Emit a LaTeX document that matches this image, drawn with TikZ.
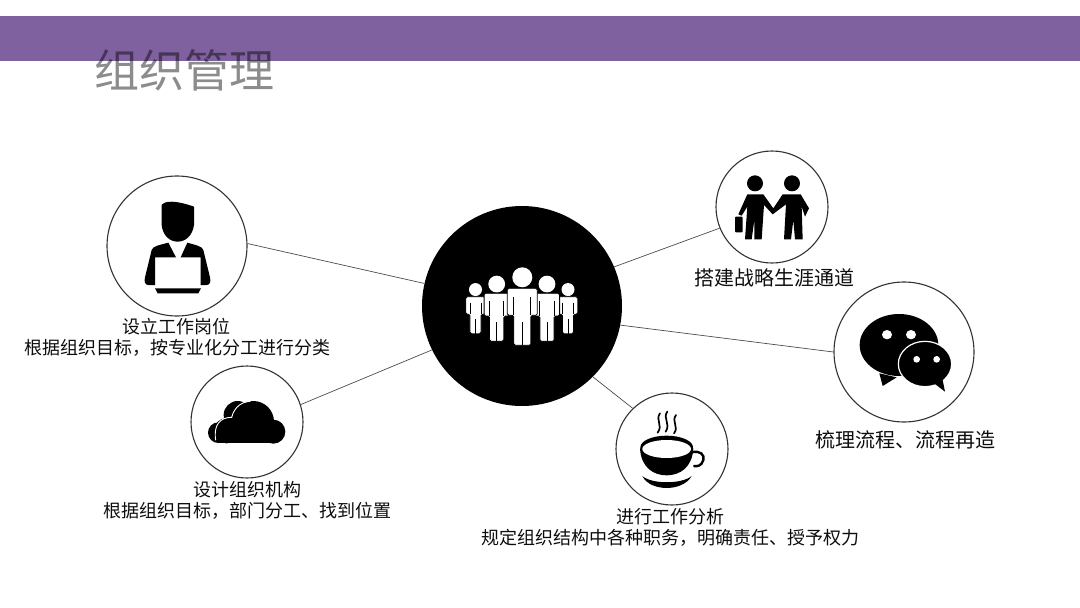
\documentclass[tikz,border=0pt]{standalone}
\usepackage{fontspec}
\setmainfont{Noto Sans CJK SC}
\usepackage{xcolor}
\usepackage{tikz}
\usetikzlibrary{positioning}
\definecolor{barpurple}{HTML}{7F619F}

\begin{document}
\begin{tikzpicture}[
  x=1pt, y=-1pt,
  bigring/.style={draw=black!80, line width=1.1pt, fill=white, circle, inner sep=0pt, minimum size=140pt},
  midring/.style={draw=black!80, line width=1.1pt, fill=white, circle, inner sep=0pt, minimum size=112pt},
  hubdisc/.style={fill=black, circle, inner sep=0pt, minimum size=200pt},
  caption/.style={align=center, inner sep=0pt, text=black!95, font=\fontsize{18}{21}\selectfont},
  bigcaption/.style={caption, font=\fontsize{20}{24}\selectfont},
  spoke/.style={draw=black!70, line width=0.7pt},
  crowdman/.pic={
    \fill[white] (0,-11) circle (10);
    \filldraw[white, draw=black, line width=0.8pt, rounded corners=1.5pt]
      (-15,0) -- (15,0) -- (15,27) -- (8.5,27) -- (8.5,57) -- (-8.5,57) -- (-8.5,27) -- (-15,27) -- cycle;
    \draw[black, line width=0.9pt] (-8.5,9) -- (-8.5,27) (8.5,9) -- (8.5,27) (0,34) -- (0,57);
  }
]
\useasboundingbox (0,0) rectangle (1080,608);
\fill[barpurple] (0,16) rectangle (1080,61);
\node[inner sep=0pt, text opacity=0.45, font=\fontsize{45}{50}\selectfont] (title) at (184,70) {组织管理};

% circles
\node[hubdisc] (hub) at (522,306) {};
\node[bigring] (worker) at (177,246) {};
\node[midring] (partner) at (772,207) {};
\node[bigring] (chat) at (904,352) {};
\node[midring] (coffee) at (672,449) {};
\node[midring] (cloud) at (247,422) {};

% captions
\node[caption, below=2pt of worker] (workertext) {设立工作岗位\\根据组织目标，按专业化分工进行分类};
\node[bigcaption, below=5pt of partner, xshift=2.5pt] (partnertext) {搭建战略生涯通道};
\node[bigcaption, below=8pt of chat, xshift=1pt] (chattext) {梳理流程、流程再造};
\node[caption, below=3pt of coffee, xshift=-1.5pt] (coffeetext) {进行工作分析\\规定组织结构中各种职务，明确责任、授予权力};
\node[caption, below=3pt of cloud] (cloudtext) {设计组织机构\\根据组织目标，部门分工、找到位置};

% spokes
\draw[spoke] (hub.167) -- (worker.2);
\draw[spoke] (hub.23) -- (partner.202);
\draw[spoke] (hub.-11) -- (chat.180);
\draw[spoke] (hub.-45) -- (coffee.134);
\draw[spoke] (hub.206) -- (cloud.18);

% crowd in the hub
\pic[scale=0.65] at (475.5,296.7) {crowdman};
\pic[scale=0.65] at (568,296.7) {crowdman};
\pic[scale=0.84] at (496.7,293.3) {crowdman};
\pic[scale=0.84] at (547,293.3) {crowdman};
\pic at (522.3,288.3) {crowdman};

% worker with laptop
\begin{scope}[shift={(100,170)}, scale=1/3]
  \fill (185,105) .. controls (195,92) and (225,90) .. (282,110) -- (282,165) .. controls (278,195) and (258,215) .. (233,215) .. controls (208,215) and (188,195) .. (185,165) -- cycle;
  \fill (205,218) -- (228,262) -- (165,262) -- (165,345) -- (145,345) .. controls (135,345) and (132,335) .. (135,322) -- (155,240) .. controls (158,228) and (180,225) .. cycle;
  \fill (262,218) -- (242,262) -- (302,262) -- (302,345) -- (320,345) .. controls (330,345) and (333,335) .. (330,322) -- (310,240) .. controls (307,228) and (285,225) .. cycle;
  \fill (165,355) -- (303,355) -- (295,370) -- (173,370) -- cycle;
\end{scope}

% two people shaking hands
\begin{scope}[shift={(710,145)}, scale=1/3]
  \fill (135,115) circle (24) (246,115) circle (24);
  \fill (112,148) -- (160,148) -- (190,190) -- (218,148) -- (272,148) -- (297,190) -- (285,215) -- (275,185) -- (278,283) -- (255,283) -- (250,225) -- (243,283) -- (222,283) -- (228,178) -- (188,208) -- (162,180) -- (155,283) -- (133,283) -- (133,225) -- (125,283) -- (105,283) -- (112,185) -- (95,212) -- (85,208) -- cycle;
  \fill[rounded corners=1pt] (75,215) rectangle (98,262);
\end{scope}

% chat bubbles
\begin{scope}[shift={(830,280)}, scale=1/3]
  \fill (207,195) ellipse (118 and 93);
  \fill (148,280) -- (158,318) -- (200,292) -- cycle;
  \fill[white] (171,164) ellipse (15 and 14) (243,164) ellipse (15 and 14);
  \filldraw[draw=white, line width=1.2pt, fill=black] (285,252) ellipse (80 and 68);
  \fill (315,312) -- (345,335) -- (338,300) -- cycle;
  \fill[white] (260,238) circle (10) (320,238) circle (10);
\end{scope}

% coffee cup
\begin{scope}[shift={(610,390)}, scale=1/3]
  \draw[line width=1.7pt, line cap=round] (150,70) .. controls (135,90) and (160,105) .. (143,128);
  \draw[line width=1.7pt, line cap=round] (172,65) .. controls (157,85) and (183,100) .. (167,125);
  \draw[line width=1.7pt, line cap=round] (198,75) .. controls (183,95) and (208,110) .. (192,130);
  \draw[line width=2.4pt] (245,187) .. controls (270,180) and (285,195) .. (280,210) .. controls (275,228) and (262,230) .. (250,228);
  \fill (170,172) ellipse (79 and 35);
  \fill (90,175) .. controls (93,232) and (130,256) .. (170,256) .. controls (210,256) and (247,232) .. (250,175) -- cycle;
  \fill[white] (170,177) ellipse (73 and 27);
  \fill (97,258) .. controls (125,283) and (215,283) .. (245,258) .. controls (230,285) and (195,294) .. (170,294) .. controls (145,294) and (110,285) .. cycle;
\end{scope}

% cloud
\begin{scope}[shift={(185,360)}, scale=1/3]
  \fill (158,165) circle (42) (100,218) circle (31) (205,185) circle (62) (265,215) circle (36) (125,212) circle (38);
  \fill (100,210) rectangle (268,250);
  \draw[white, line width=0.9pt, line cap=round] (92,240) .. controls (85,195) and (105,172) .. (140,172) .. controls (148,140) and (172,125) .. (195,124);
\end{scope}
\end{tikzpicture}
\end{document}
